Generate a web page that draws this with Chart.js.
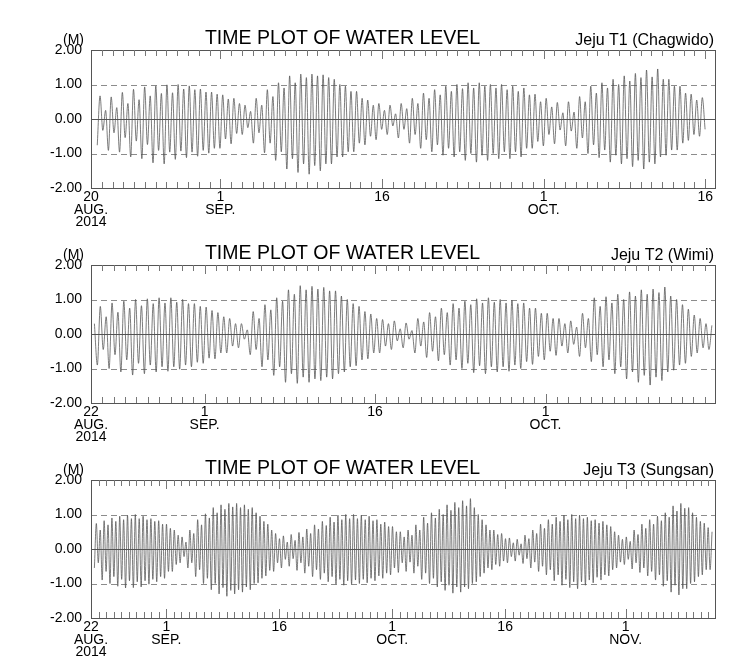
<!DOCTYPE html>
<html><head><meta charset="utf-8">
<script src="https://cdn.jsdelivr.net/npm/chart.js@4.4.0/dist/chart.umd.min.js"></script>
<style>
html,body{margin:0;padding:0;background:#fff;}
#wrap{position:relative;width:745px;height:670px;overflow:hidden;background:#fff;}
canvas{position:absolute;left:0;}
</style></head><body>
<div id="wrap">
<canvas id="c1" width="745" height="240" style="top:0px"></canvas>
<canvas id="c2" width="745" height="240" style="top:215px"></canvas>
<canvas id="c3" width="745" height="240" style="top:430px"></canvas>
</div>
<script>
// time between successive high and low waters (half of the 12.42 h tidal period), in days
const HALF_PERIOD = 0.25875;
const yTicks = [-2, -1, 0, 1, 2];

// ---- Panel 1 : Jeju T1 (Chagwido), days from 20 Aug 2014 ----
const t1Title = "TIME PLOT OF WATER LEVEL";
const t1Site = "Jeju T1 (Chagwido)";
const t1Days = 58;
const t1Start = 0.58;
const t1TickDays = [0, 12, 27, 42, 57];
const t1TickLabels = [["20","AUG.","2014"],["1","SEP."],["16"],["1","OCT."],["16"]];
const t1Levels = [
 -0.76,0.67,-0.33,0.25, -0.91,0.64,-0.40,0.33, -0.96,0.77,-0.54,0.45, -1.10,0.86,-0.64,0.56,
 -1.15,0.93,-0.74,0.67, -1.27,0.96,-0.91,0.74, -1.30,0.99,-0.96,0.76, -1.17,1.00,-0.93,0.87,
 -1.12,0.96,-0.96,0.85, -1.08,0.87,-0.91,0.78, -0.99,0.78,-0.85,0.72, -0.85,0.70,-0.58,0.58,
 -0.72,0.60,-0.42,0.45, -0.45,0.40,-0.25,0.22, -0.70,0.60,-0.40,0.40, -0.98,0.85,-0.70,0.65,
 -1.20,1.05,-0.95,0.90, -1.45,1.25,-1.15,1.05, -1.55,1.30,-1.30,1.20, -1.60,1.30,-1.35,1.25,
 -1.50,1.28,-1.30,1.20, -1.30,1.15,-1.10,1.00, -1.10,0.95,-0.95,0.80, -0.95,0.80,-0.70,0.60,
 -0.75,0.55,-0.50,0.40, -0.60,0.45,-0.30,0.25, -0.45,0.40,-0.20,0.15, -0.55,0.45,-0.30,0.30,
 -0.70,0.60,-0.45,0.45, -0.85,0.75,-0.60,0.60, -0.95,0.85,-0.75,0.70, -1.05,0.95,-0.85,0.80,
 -1.10,1.00,-0.95,0.88, -1.20,1.05,-1.00,0.90, -1.25,1.05,-1.05,0.95, -1.20,1.00,-1.00,0.90,
 -1.15,1.00,-0.95,0.85, -1.15,0.95,-0.95,0.80, -1.10,0.90,-0.85,0.70, -0.85,0.72,-0.65,0.50,
 -0.78,0.60,-0.45,0.35, -0.72,0.48,-0.32,0.18, -0.78,0.50,-0.35,0.20, -0.85,0.65,-0.55,0.50,
 -1.00,0.95,-0.75,0.75, -1.12,1.05,-0.90,0.90, -1.25,1.15,-1.05,1.00, -1.30,1.25,-1.15,1.10,
 -1.38,1.32,-1.20,1.20, -1.45,1.42,-1.25,1.22, -1.30,1.45,-1.10,1.15, -1.05,1.15,-0.90,0.95,
 -0.90,0.95,-0.70,0.75, -0.62,0.72,-0.45,0.55, -0.50,0.62,-0.30
];

// ---- Panel 2 : Jeju T2 (Wimi), days from 22 Aug 2014 ----
const t2Title = "TIME PLOT OF WATER LEVEL";
const t2Site = "Jeju T2 (Wimi)";
const t2Days = 55;
const t2Start = 0.30;
const t2TickDays = [0, 10, 25, 40];
const t2TickLabels = [["22","AUG.","2014"],["1","SEP."],["16"],["1","OCT."]];
const t2Levels = [
 0.30,
 -0.90,0.80,-0.45,0.50, -1.00,0.90,-0.60,0.63, -1.10,0.95,-0.75,0.75, -1.19,1.00,-0.85,0.82,
 -1.15,1.02,-0.90,0.88, -1.10,1.05,-0.95,0.90, -1.08,1.05,-0.95,0.92, -1.02,1.00,-0.90,0.88,
 -0.95,0.88,-0.82,0.80, -0.85,0.78,-0.70,0.68, -0.72,0.62,-0.55,0.50, -0.55,0.45,-0.35,0.30,
 -0.40,0.30,-0.15,0.12, -0.60,0.65,-0.45,0.45, -0.95,0.85,-0.75,0.70, -1.20,1.05,-0.95,0.95,
 -1.40,1.28,-1.15,1.15, -1.43,1.40,-1.25,1.28, -1.40,1.38,-1.30,1.30, -1.35,1.35,-1.25,1.25,
 -1.30,1.25,-1.15,1.10, -1.10,1.00,-0.95,0.88, -0.92,0.80,-0.75,0.65, -0.72,0.58,-0.55,0.45,
 -0.55,0.42,-0.35,0.30, -0.45,0.38,-0.20,0.15, -0.40,0.32,-0.15,0.10, -0.55,0.45,-0.35,0.35,
 -0.68,0.62,-0.50,0.50, -0.78,0.75,-0.60,0.62, -0.90,0.88,-0.75,0.75, -1.00,0.95,-0.85,0.85,
 -1.12,1.02,-0.92,0.90, -1.15,1.05,-0.95,0.92, -1.10,1.00,-0.95,0.90, -1.08,0.98,-0.90,0.88,
 -1.00,0.90,-0.80,0.75, -0.88,0.75,-0.65,0.60, -0.75,0.60,-0.50,0.45, -0.62,0.45,-0.35,0.30,
 -0.55,0.38,-0.30,0.20, -0.65,0.60,-0.40,0.45, -0.80,1.05,-0.60,0.80, -0.95,1.08,-0.75,0.90,
 -1.15,1.15,-0.95,1.00, -1.30,1.22,-1.10,1.10, -1.40,1.28,-1.20,1.15, -1.48,1.30,-1.25,1.20,
 -1.35,1.36,-1.10,1.10, -1.05,1.00,-0.90,0.85, -0.85,0.72,-0.65,0.55, -0.55,0.45,-0.40,0.30,
 -0.45,0.25
];

// ---- Panel 3 : Jeju T3 (Sungsan), days from 22 Aug 2014 ----
const t3Title = "TIME PLOT OF WATER LEVEL";
const t3Site = "Jeju T3 (Sungsan)";
const t3Days = 83;
const t3Start = 0.45;
const t3TickDays = [0, 10, 25, 40, 55, 71];
const t3TickLabels = [["22","AUG.","2014"],["1","SEP."],["16"],["1","OCT."],["16"],["1","NOV."]];
const t3Levels = [
 -0.55,0.74,-0.40,0.55, -0.90,0.82,-0.65,0.70, -1.00,0.90,-0.80,0.80, -1.08,0.95,-0.88,0.85,
 -1.13,0.98,-0.92,0.88, -1.12,1.00,-0.95,0.88, -1.10,0.95,-0.92,0.85, -1.02,0.88,-0.88,0.80,
 -0.95,0.82,-0.80,0.72, -0.85,0.72,-0.65,0.60, -0.65,0.55,-0.45,0.40, -0.40,0.35,-0.22,0.20,
 -0.55,0.55,-0.40,0.45, -0.80,0.85,-0.60,0.70, -1.00,1.02,-0.85,0.90, -1.18,1.20,-1.00,1.05,
 -1.30,1.28,-1.12,1.15, -1.37,1.32,-1.20,1.22, -1.30,1.32,-1.18,1.20, -1.25,1.28,-1.10,1.15,
 -1.18,1.20,-1.00,1.05, -0.98,0.95,-0.85,0.80, -0.78,0.72,-0.62,0.55, -0.65,0.45,-0.40,0.30,
 -0.55,0.38,-0.30,0.20, -0.50,0.42,-0.28,0.25, -0.62,0.48,-0.40,0.35, -0.70,0.58,-0.50,0.45,
 -0.80,0.70,-0.60,0.58, -0.88,0.80,-0.70,0.68, -0.95,0.92,-0.80,0.78, -1.02,0.98,-0.88,0.85,
 -1.05,1.00,-0.92,0.88, -1.02,1.00,-0.90,0.88, -1.00,0.98,-0.88,0.85, -0.98,0.95,-0.85,0.82,
 -0.92,0.85,-0.78,0.72, -0.85,0.78,-0.70,0.65, -0.75,0.65,-0.55,0.50, -0.68,0.50,-0.40,0.35,
 -0.65,0.55,-0.38,0.40, -0.70,0.70,-0.50,0.55, -0.88,0.92,-0.70,0.75, -1.00,1.05,-0.85,0.90,
 -1.10,1.15,-0.95,1.00, -1.20,1.28,-1.05,1.12, -1.28,1.35,-1.10,1.20, -1.25,1.40,-1.10,1.25,
 -1.15,1.46,-1.00,1.20, -0.95,1.00,-0.80,0.85, -0.70,0.70,-0.55,0.55, -0.60,0.55,-0.45,0.42,
 -0.50,0.45,-0.35,0.30, -0.40,0.32,-0.22,0.18, -0.35,0.28,-0.18,0.15, -0.42,0.40,-0.28,0.30,
 -0.55,0.55,-0.38,0.45, -0.65,0.72,-0.50,0.60, -0.75,0.85,-0.60,0.72, -0.92,0.92,-0.75,0.80,
 -1.05,0.98,-0.88,0.85, -1.12,1.00,-0.95,0.88, -1.15,0.98,-0.95,0.88, -1.05,0.92,-0.90,0.82,
 -0.98,0.85,-0.82,0.75, -0.90,0.80,-0.75,0.70, -0.78,0.65,-0.60,0.50, -0.55,0.40,-0.38,0.28,
 -0.45,0.35,-0.30,0.22, -0.58,0.55,-0.40,0.42, -0.68,0.72,-0.55,0.60, -0.78,0.85,-0.65,0.72,
 -0.90,0.95,-0.75,0.82, -1.08,1.05,-0.92,0.92, -1.25,1.25,-1.05,1.10, -1.33,1.32,-1.15,1.18,
 -1.15,1.20,-1.00,1.05, -0.95,0.92,-0.80,0.80, -0.75,0.75,-0.60,0.62, -0.60,0.50
];

const FONT = '"Liberation Sans", Arial, Helvetica, sans-serif';

function panelPlugin(cfg) {
  return {
    id: 'panelDecor',
    beforeDatasetsDraw(chart) {
      const {ctx, chartArea: a, scales: {y}} = chart;
      ctx.save();
      ctx.lineWidth = 1;
      ctx.strokeStyle = '#8c8c8c';
      ctx.setLineDash([6, 4]);
      [1, -1].forEach(v => {
        const py = Math.round(y.getPixelForValue(v)) + 0.5;
        ctx.beginPath(); ctx.moveTo(a.left, py); ctx.lineTo(a.right, py); ctx.stroke();
      });
      ctx.setLineDash([]);
      ctx.strokeStyle = '#555';
      const p0 = Math.round(y.getPixelForValue(0)) + 0.5;
      ctx.beginPath(); ctx.moveTo(a.left, p0); ctx.lineTo(a.right, p0); ctx.stroke();
      ctx.restore();
    },
    afterDraw(chart) {
      const {ctx, chartArea: a, scales: {x}} = chart;
      ctx.save();
      ctx.strokeStyle = '#555';
      ctx.lineWidth = 1;
      ctx.strokeRect(a.left + 0.5, a.top + 0.5, a.right - a.left - 1, a.bottom - a.top);
      ctx.strokeStyle = '#777';
      for (let d = 1; d < cfg.days; d++) {
        const major = cfg.tickDays.includes(d);
        const len = major ? 9 : 6;
        const px = Math.round(x.getPixelForValue(d)) + 0.5;
        ctx.beginPath();
        ctx.moveTo(px, a.top); ctx.lineTo(px, a.top + len);
        ctx.moveTo(px, a.bottom); ctx.lineTo(px, a.bottom - len);
        ctx.stroke();
      }
      ctx.fillStyle = '#000';
      ctx.textBaseline = 'alphabetic';
      ctx.font = '19.5px ' + FONT;
      ctx.textAlign = 'center';
      ctx.fillText(cfg.title, 342.5, a.top - 6.5);
      ctx.font = '16px ' + FONT;
      ctx.textAlign = 'right';
      ctx.fillText(cfg.site, 714, a.top - 5);
      ctx.font = '14px ' + FONT;
      ctx.textAlign = 'left';
      ctx.fillText('(M)', 63, a.top - 6.5);
      ctx.restore();
    }
  };
}

function makePanel(id, cfg) {
  const pts = cfg.levels.map((v, i) => ({x: cfg.start + i * HALF_PERIOD, y: v}));
  new Chart(document.getElementById(id), {
    type: 'line',
    data: {datasets: [{data: pts, borderColor: '#505050', borderWidth: 0.75, pointRadius: 0,
      cubicInterpolationMode: 'monotone', tension: 0.4, fill: false}]},
    options: {
      responsive: false, animation: false, events: [], parsing: false,
      layout: {padding: {top: 50, left: 0, right: 29, bottom: 0}},
      plugins: {legend: {display: false}, tooltip: {enabled: false}, title: {display: false}},
      scales: {
        x: {
          type: 'linear', min: 0, max: cfg.days,
          grid: {display: false, drawTicks: false}, border: {display: false},
          afterBuildTicks: s => { s.ticks = cfg.tickDays.map(v => ({value: v})); },
          afterFit: s => { s.height = 52; },
          ticks: {autoSkip: false, maxRotation: 0, padding: 3, color: '#000',
            font: {family: FONT, size: 14, lineHeight: 0.9},
            callback: (v, i) => cfg.tickLabels[i]}
        },
        y: {
          min: -2, max: 2,
          grid: {display: false, drawTicks: false}, border: {display: false},
          afterBuildTicks: s => { s.ticks = yTicks.map(v => ({value: v})); },
          afterFit: s => { s.width = 91; },
          ticks: {padding: 9, color: '#000', font: {family: FONT, size: 14},
            callback: v => Number(v).toFixed(2)}
        }
      }
    },
    plugins: [panelPlugin(cfg)]
  });
}

makePanel('c1', {title: t1Title, site: t1Site, days: t1Days, start: t1Start, levels: t1Levels, tickDays: t1TickDays, tickLabels: t1TickLabels});
makePanel('c2', {title: t2Title, site: t2Site, days: t2Days, start: t2Start, levels: t2Levels, tickDays: t2TickDays, tickLabels: t2TickLabels});
makePanel('c3', {title: t3Title, site: t3Site, days: t3Days, start: t3Start, levels: t3Levels, tickDays: t3TickDays, tickLabels: t3TickLabels});
</script>
</body></html>
